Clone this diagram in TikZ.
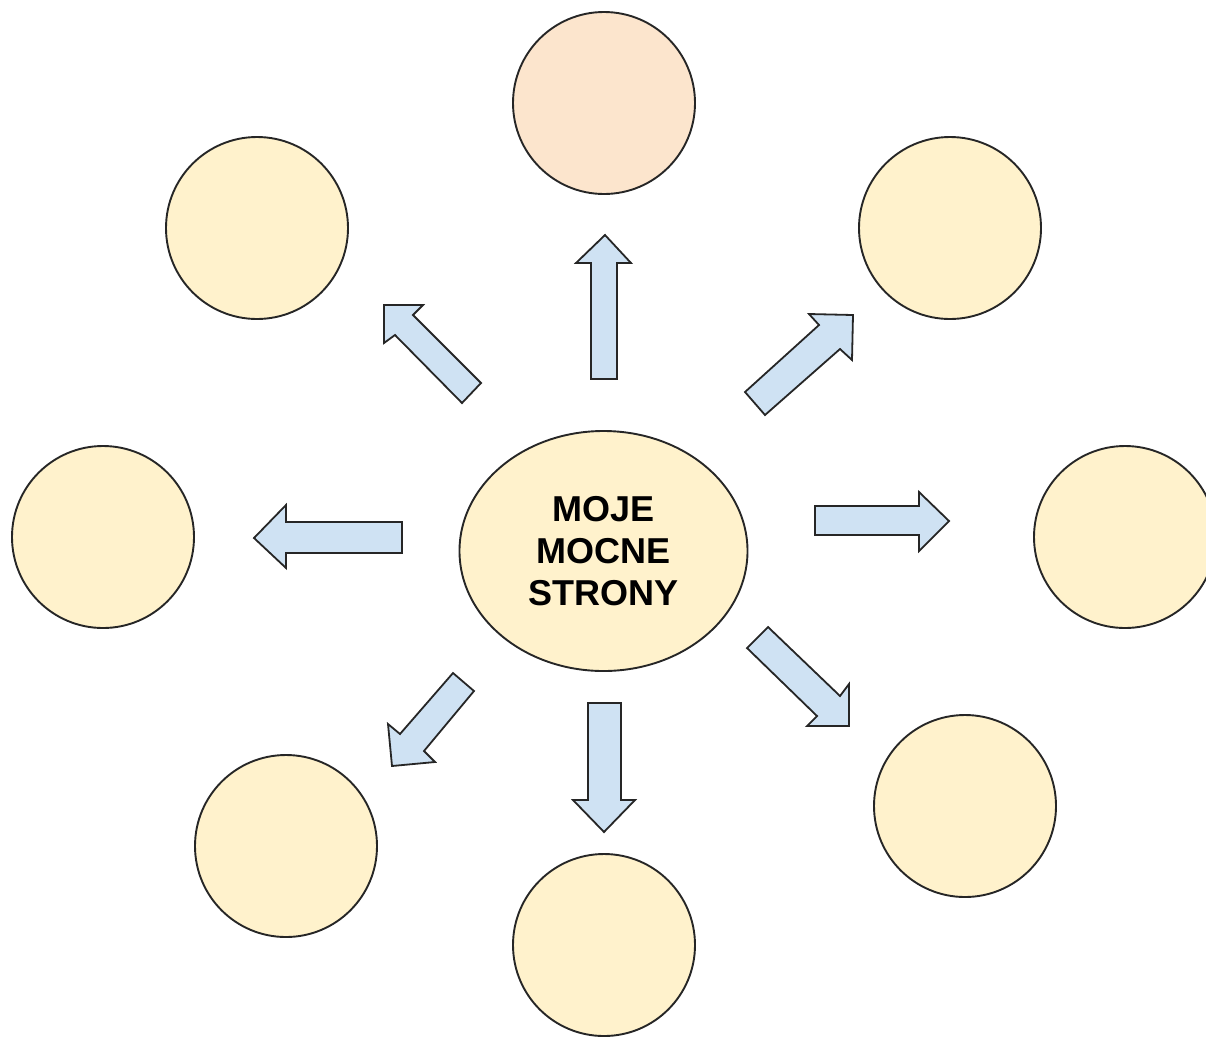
\documentclass[tikz,border=0pt]{standalone}
\usepackage{fontspec}
\setmainfont{Liberation Sans}
\usetikzlibrary{shapes.geometric}
\definecolor{outline}{HTML}{262626}
\definecolor{ideafill}{HTML}{FFF2CC}
\definecolor{topfill}{HTML}{FCE5CD}
\definecolor{arrowfill}{HTML}{CFE2F3}
\begin{document}
\begin{tikzpicture}[x=1pt,y=-1pt,
  idea/.style={circle,draw=outline,line width=1.9pt,fill=ideafill,
    minimum size=182pt,inner sep=0pt},
  core/.style={ellipse,draw=outline,line width=1.9pt,fill=ideafill,
    minimum width=288pt,minimum height=240pt,inner sep=0pt,
    align=center,font=\bfseries\fontsize{36}{42}\selectfont},
  blockarrow/.style={draw=outline,line width=1.8pt,fill=arrowfill,line join=miter}]
\useasboundingbox (0,0) rectangle (1206,1037);
\clip (0,0) rectangle (1206,1037);

% central topic
\node[core] (core) at (603.5,551) {MOJE\\MOCNE\\STRONY};

% surrounding circles
\node[idea,fill=topfill] (n)  at (604,103) {};
\node[idea] (nw) at (257,228) {};
\node[idea] (ne) at (950,228) {};
\node[idea] (w)  at (103,537) {};
\node[idea] (e)  at (1125,537) {};
\node[idea] (sw) at (286,846) {};
\node[idea] (s)  at (604,945) {};
\node[idea] (se) at (965,806) {};

% block arrows pointing outwards
\draw[blockarrow] (605,235) -- (631,263) -- (617,263) -- (617,379) -- (591,379) -- (591,263) -- (576,263) -- cycle;
\draw[blockarrow] (604,832) -- (635,800) -- (621,800) -- (621,703) -- (588,703) -- (588,800) -- (573,800) -- cycle;
\draw[blockarrow] (254,538) -- (286,505) -- (286,522) -- (402,522) -- (402,553) -- (286,553) -- (286,568) -- cycle;
\draw[blockarrow] (949,521) -- (919,492) -- (919,506) -- (815,506) -- (815,535) -- (919,535) -- (919,551) -- cycle;
\draw[blockarrow] (384,305) -- (423,305) -- (413,315) -- (481,383) -- (462,403) -- (395,335) -- (384,343) -- cycle;
\draw[blockarrow] (853,315) -- (809,314) -- (819,325) -- (745,392) -- (765,415) -- (840,349) -- (852,360) -- cycle;
\draw[blockarrow] (849,726) -- (807,726) -- (817,716) -- (747,648) -- (768,627) -- (840,696) -- (849,684) -- cycle;
\draw[blockarrow] (392,766) -- (388,724) -- (400,734) -- (453,673) -- (474,691) -- (424,751) -- (435,762) -- cycle;
\end{tikzpicture}
\end{document}
